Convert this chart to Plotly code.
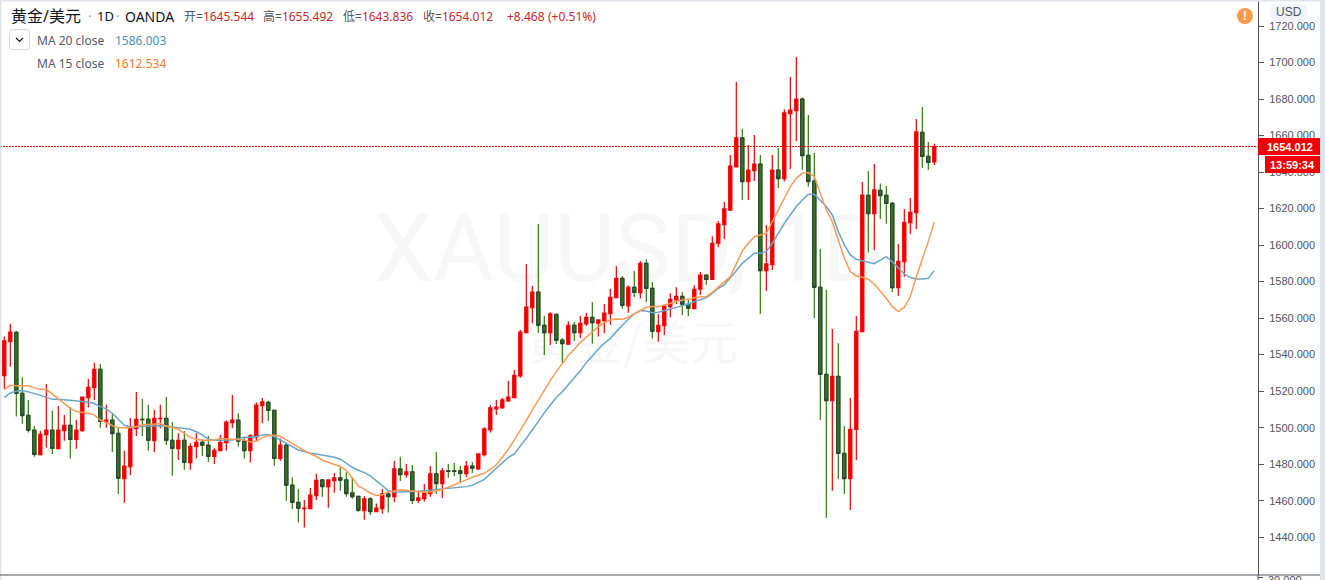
import plotly.graph_objects as go

opens = [1528.5,1547.1,1552.2,1518.8,1506.8,1498.6,1485.2,1496.2,1498.6,1488.5,1498.4,1501.3,1493.6,1498.4,1516.5,1521.9,1532.0,1503.0,1504.1,1496.9,1472.1,1478.7,1499.5,1504.6,1504.6,1492.9,1505.0,1505.1,1493.1,1488.5,1493.1,1480.9,1489.6,1492.0,1490.4,1484.2,1487.4,1491.8,1502.8,1504.1,1492.6,1487.4,1494.9,1512.1,1513.9,1509.5,1483.1,1490.4,1468.5,1459.1,1455.7,1455.7,1462.8,
1471.4,1467.7,1471.0,1472.5,1471.4,1464.3,1462.4,1454.6,1461.0,1454.0,1455.7,1463.7,1462.2,1477.4,1474.3,1475.8,1460.1,1461.1,1463.9,1474.7,1469.4,1476.3,1476.3,1476.3,1474.8,1479.0,1477.4,1485.2,1498.8,1510.3,1510.8,1514.6,
1516.4,1528.3,1552.0,1565.7,1574.3,1556.1,1552.0,1562.1,1547.9,1545.8,1556.1,1552.0,1556.8,1560.4,1557.3,1558.6,1562.5,1571.2,1581.8,1566.7,1576.9,1574.0,1590.0,1576.3,1552.6,1555.9,1566.3,1570.1,1571.9,1567.6,1565.2,1575.8,1583.5,1581.2,1601.0,
1611.2,1619.2,1642.8,1658.7,1634.8,1640.8,1644.4,1586.0,1589.3,1641.1,1636.4,1672.0,1673.6,1680.0,1649.2,1635.1,1576.9,1529.2,1514.8,1528.1,1485.9,1472.1,1499.1,1552.6,1627.3,1617.2,1630.0,1627.3,1622.9,1576.7,1590.9,1612.3,1617.8,1661.8,1648.6,1645.544]

closes = [1547.5,1552.4,1518.8,1506.6,1498.6,1485.4,1496.4,1498.6,1488.7,1498.6,1501.3,1493.6,1498.6,1516.8,1522.1,1532.0,1503.5,1504.1,1496.7,1472.3,1478.9,1499.7,1504.6,1504.4,1493.1,1505.1,1505.1,1493.1,1488.7,1493.1,1481.0,1489.8,1492.0,1490.4,1484.3,1487.6,1492.0,1503.0,1504.2,1492.6,1487.4,1495.5,1512.3,1514.1,1509.5,1483.2,1490.4,1468.5,1459.1,1455.9,1455.9,1463.0,1471.2,
1467.7,1471.4,1472.5,1471.2,1463.9,1462.2,1454.8,1461.0,1454.0,1456.0,1463.7,1462.2,1477.4,1474.3,1475.8,1460.2,1461.5,1464.3,1474.7,1469.4,1476.3,1476.1,1476.1,1475.0,1479.0,1477.8,1485.6,1499.3,1510.8,1511.3,1515.2,1516.8,
1528.7,1552.4,1566.1,1574.3,1556.1,1552.0,1562.3,1547.9,1546.0,1556.1,1552.0,1557.2,1560.4,1557.5,1559.0,1562.8,1571.4,1581.8,1567.0,1576.9,1574.1,1590.0,1576.3,1552.8,1556.1,1566.5,1570.3,1571.9,1567.6,1565.4,1575.8,1583.5,1581.2,1601.0,1611.6,
1619.8,1643.3,1658.7,1634.8,1641.1,1644.4,1586.0,1589.7,1641.1,1636.4,1672.4,1674.0,1680.0,1649.0,1634.8,1576.9,1529.2,1514.8,1528.1,1485.9,1472.1,1499.1,1552.8,1627.4,1617.2,1630.2,1627.1,1622.9,1576.7,1591.1,1612.5,1617.9,1662.0,1648.6,1645.3,1654.012]

highs = [1549.9,1556.8,1553.0,1527.6,1515.2,1500.9,1498.2,1523.9,1509.2,1511.9,1507.0,1511.2,1504.2,1516.8,1526.7,1535.5,1534.9,1512.5,1507.3,1500.2,1487.3,1505.3,1519.6,1515.7,1512.5,1509.7,1512.5,1516.8,1503.1,1496.9,1498.2,1491.5,1496.9,1493.6,1495.5,1488.7,1496.0,1503.9,1517.9,1507.9,1494.9,1496.4,1513.9,1516.3,1514.6,1509.7,1494.2,1491.8,1472.8,1466.4,1460.4,1467.0,1474.7,
1471.4,1471.4,1475.2,1478.3,1475.6,1472.8,1462.4,1462.4,1461.9,1458.4,1466.4,1465.3,1481.8,1484.0,1480.1,1479.6,1465.3,1469.2,1479.0,1486.7,1477.9,1480.1,1480.7,1479.0,1481.8,1481.2,1486.0,1500.2,1512.4,1515.2,1516.3,1525.6,
1531.6,1553.5,1589.7,1577.6,1611.6,1561.2,1563.2,1562.3,1549.1,1558.3,1557.9,1561.2,1562.8,1568.7,1559.0,1567.8,1576.0,1588.6,1583.1,1578.0,1585.8,1591.3,1592.2,1579.8,1562.3,1567.6,1573.6,1576.9,1574.1,1570.5,1578.0,1585.3,1583.5,1604.8,1613.0,
1623.6,1649.4,1689.3,1663.6,1654.8,1660.3,1649.4,1611.0,1649.4,1653.2,1674.4,1692.1,1703.0,1680.8,1671.3,1650.5,1597.9,1575.4,1554.1,1546.2,1500.9,1516.3,1561.2,1634.6,1640.6,1644.4,1633.8,1632.4,1623.6,1600.6,1619.8,1625.8,1669.1,1675.6,1656.5,1655.492]

lows = [1521.0,1533.4,1506.1,1502.1,1497.3,1484.0,1484.7,1489.1,1485.6,1488.3,1492.9,1483.1,1488.5,1497.7,1511.0,1515.2,1499.9,1499.9,1486.7,1463.7,1458.9,1474.1,1495.5,1495.5,1487.3,1486.7,1499.7,1490.5,1473.6,1482.3,1476.9,1476.9,1483.1,1484.5,1481.2,1480.1,1487.3,1487.3,1499.7,1489.5,1483.1,1480.9,1492.7,1502.6,1503.7,1479.2,1481.9,1459.9,1455.5,1448.0,1445.3,1455.5,1460.4,
1462.2,1456.2,1464.3,1465.5,1462.2,1461.1,1454.0,1449.5,1452.2,1453.7,1452.8,1453.5,1459.3,1470.8,1472.5,1458.2,1458.8,1459.5,1462.2,1463.7,1461.5,1472.5,1473.4,1469.5,1472.8,1475.2,1476.8,1484.2,1497.3,1507.0,1510.3,1514.1,
1516.3,1527.4,1551.9,1557.2,1552.0,1539.8,1545.3,1545.8,1535.6,1545.3,1547.5,1549.1,1555.7,1546.0,1549.9,1551.7,1556.3,1571.0,1565.2,1563.0,1571.6,1570.7,1568.8,1548.8,1547.1,1550.8,1560.3,1567.7,1561.7,1561.2,1565.0,1572.7,1578.3,1581.1,1598.8,
1603.4,1618.7,1642.6,1624.7,1624.7,1635.1,1562.3,1574.9,1586.4,1631.3,1634.8,1641.7,1657.0,1641.1,1632.0,1560.1,1504.2,1450.7,1465.5,1471.9,1463.7,1454.9,1482.3,1552.4,1595.9,1597.3,1614.3,1611.7,1574.3,1572.3,1582.7,1606.1,1608.8,1642.2,1641.1,1643.836]

ma15 = [1521.0,1523.2,1523.0,1522.9,1522.9,1521.8,1521.0,1521.0,1518.3,1516.1,1513.4,1510.6,1508.8,1508.4,1507.9,1507.0,1504.2,1502.8,1501.1,1500.0,1499.9,1499.9,1500.6,1501.5,1501.7,1502.1,1502.2,1500.9,1500.2,1499.1,1496.9,1494.7,1493.6,1493.1,1493.1,1493.3,1494.0,1493.8,1493.6,1493.6,1493.3,1492.2,1492.6,1494.4,1495.7,1495.8,1495.3,1493.3,1491.5,1489.3,1487.4,1486.0,1484.2,
1482.3,1480.9,1479.8,1478.7,1476.5,1472.6,1468.1,1466.3,1464.1,1462.8,1463.2,1464.8,1465.5,1465.9,1465.7,1465.2,1465.0,1464.6,1464.8,1465.3,1466.1,1467.4,1468.6,1470.1,1471.4,1472.8,1474.1,1475.0,1477.2,1479.6,1483.8,1488.2,1493.3,1498.4,1503.9,1509.7,
1515.2,1520.7,1525.8,1530.7,1535.3,1539.5,1542.9,1546.6,1549.5,1552.6,1555.3,1557.7,1559.0,1559.5,1559.4,1560.5,1562.3,1564.5,1565.9,1566.3,1566.3,1567.2,1568.1,1569.4,1569.9,1570.3,1571.2,1571.6,1571.8,1574.1,1576.9,
1579.4,1582.7,1589.7,1596.8,1601.0,1604.6,1605.5,1606.5,1612.9,1619.2,1625.6,1632.0,1636.6,1639.3,
1639.7,1637.5,1628.4,1619.2,1612.8,1602.8,1592.8,1585.5,1583.1,1582.4,1581.3,1578.7,1575.1,1570.9,1566.3,1563.6,1565.9,1571.8,1582.7,1591.9,1601.9,1612.534]

ma20 = [1516.5,1519.0,1519.9,1520.3,1519.6,1518.8,1517.7,1516.6,1515.5,1515.5,1515.2,1515.0,1514.8,1514.3,1514.1,1513.2,1511.5,1510.3,1507.9,1504.6,1501.3,1500.4,1500.6,1500.8,1500.9,1500.9,1501.1,1500.8,1500.4,1499.7,1499.3,1499.1,1497.8,1496.0,1493.6,1493.1,1493.1,1493.1,1493.3,1494.0,1494.7,1494.7,1495.1,1496.0,1496.2,1495.1,1493.3,1491.1,1489.3,1487.8,1486.9,1486.0,1485.6,
1485.1,1484.3,1483.8,1482.7,1480.5,1478.3,1476.7,1475.4,1473.6,1471.0,1468.3,1465.5,1464.6,1464.6,1464.8,1465.0,1465.2,1465.5,1465.7,1465.9,1466.3,1466.6,1466.8,1467.0,1467.7,1468.4,1469.9,1471.7,1474.7,1477.8,1481.0,1483.8,1485.6,1489.6,1494.2,
1498.7,1503.7,1508.1,1512.4,
1516.5,1519.7,1523.4,1527.0,1531.2,1535.6,1539.5,1542.9,1546.2,1548.9,1552.6,1556.2,1559.4,1562.3,1564.1,1563.9,1563.0,1563.2,1563.9,1565.0,1565.9,1566.7,1567.7,1569.0,1569.9,1571.2,1573.6,1576.3,
1578.2,1581.8,1586.0,1590.0,1592.8,1595.5,1595.5,1596.4,1601.0,1606.5,1611.9,1616.5,1621.1,1624.7,
1627.8,1627.8,1624.7,1621.1,1616.5,1607.4,1600.1,1594.6,1592.2,1591.5,1590.6,1589.8,1591.8,1593.7,1590.9,1587.3,1584.2,1582.2,1581.4,1581.4,1581.8,1586.003]

price_ticks = [1440,1460,1480,1500,1520,1540,1560,1580,1600,1620,1640,1660,1680,1700,1720]
assert all(len(a) == 156 for a in (opens, closes, highs, lows, ma15, ma20)), [len(a) for a in (opens, closes, highs, lows, ma15, ma20)]
idx = list(range(len(opens)))

W, H, MR, MB = 1325, 580, 67, 5
PW, PH = W - MR, H - MB
fx = lambda p: p / PW
fy = lambda p: 1 - p / PH

RED, GREEN_FILL, GREEN_WICK, DARK = "#f00000", "#38761d", "#2e7a0c", "#2b3a42"
CJK = "Noto Sans, Noto Sans CJK SC"
fig = go.Figure()

fig.add_trace(go.Candlestick(
    x=idx, open=opens, high=highs, low=lows, close=closes, whiskerwidth=0,
    increasing=dict(line=dict(color=RED, width=1.2), fillcolor=RED),
    decreasing=dict(line=dict(color=GREEN_WICK, width=1.2), fillcolor=GREEN_FILL),
    showlegend=False, hoverinfo="skip"))

down = [i for i in idx if closes[i] < opens[i]]
fig.add_trace(go.Candlestick(
    x=down, open=[opens[i] for i in down], close=[closes[i] for i in down],
    high=[opens[i] for i in down], low=[closes[i] for i in down], whiskerwidth=0,
    decreasing=dict(line=dict(color=DARK, width=1), fillcolor=GREEN_FILL),
    showlegend=False, hoverinfo="skip"))

fig.add_trace(go.Scatter(x=idx, y=ma20, mode="lines", line=dict(color="#6aa5c8", width=1.5),
                         showlegend=False, hoverinfo="skip"))
fig.add_trace(go.Scatter(x=idx, y=ma15, mode="lines", line=dict(color="#fb9a56", width=1.5),
                         showlegend=False, hoverinfo="skip"))

def rect(x0, y0, x1, y1, fill, layer="above"):
    return dict(type="rect", xref="paper", yref="paper", x0=fx(x0), x1=fx(x1), y0=fy(y0), y1=fy(y1),
                fillcolor=fill, line=dict(width=0), layer=layer)

def rrect(x0, y0, x1, y1, r, fill, line):
    a, b, c, d = fx(x0), fx(x1), fy(y0), fy(y1)
    rx, ry = r / PW, r / PH
    p = (f"M{a+rx},{c} L{b-rx},{c} Q{b},{c} {b},{c-ry} L{b},{d+ry} Q{b},{d} {b-rx},{d} "
         f"L{a+rx},{d} Q{a},{d} {a},{d+ry} L{a},{c-ry} Q{a},{c} {a+rx},{c} Z")
    return dict(type="path", xref="paper", yref="paper", path=p, fillcolor=fill,
                line=dict(color=line, width=1), layer="above")

shapes = [
    dict(type="rect", xref="paper", yref="paper", x0=fx(374), x1=fx(884), y0=fy(200), y1=fy(284),
         line=dict(width=0), fillcolor="rgba(0,0,0,0)", layer="below",
         label=dict(text="XAUUSD, 1D", textposition="middle center",
                    font=dict(family="Roboto", size=94, color="#f7f7f7"))),
    dict(type="rect", xref="paper", yref="paper", x0=fx(525), x1=fx(740), y0=fy(318), y1=fy(376),
         line=dict(width=0), fillcolor="rgba(0,0,0,0)", layer="below",
         label=dict(text="黄金/美元", textposition="middle center",
                    font=dict(family="Noto Sans CJK SC", size=48, color="#f7f7f7"))),
    dict(type="line", xref="paper", yref="y", x0=0, x1=1, y0=closes[-1], y1=closes[-1],
         line=dict(color="#ff0000", width=1, dash="2px,1px"), layer="above"),
    rect(0, 0, 1.5, H, "#e0e3eb"),
    rect(0, 0, W, 1.5, "#e0e3eb"),
    rect(1320, 0, W, H, "#e0e3eb"),
    dict(type="line", xref="paper", yref="paper", x0=0, x1=fx(1320), y0=fy(575), y1=fy(575),
         line=dict(color="#50535e", width=1), layer="above"),
    dict(type="line", xref="paper", yref="paper", x0=fx(1258), x1=fx(1258), y0=fy(575), y1=fy(H),
         line=dict(color="#50535e", width=1), layer="above"),
    dict(type="line", xref="paper", yref="paper", x0=fx(1258), x1=fx(1263), y0=fy(577.5), y1=fy(577.5),
         line=dict(color="#50535e", width=1), layer="above"),
    rect(1258, 138, 1320, 155, "#f00000"),
    rect(1265, 156, 1320, 173, "#f00000"),
    rrect(1271, 5, 1307, 21, 3, "#f0f3fa", "#f0f3fa"),
    rrect(9.5, 29.5, 29.5, 49.5, 3, "#ffffff", "#d6d8de"),
    dict(type="path", xref="paper", yref="paper",
         path=f"M{fx(16)},{fy(38)} L{fx(19.5)},{fy(41.5)} L{fx(23)},{fy(38)}",
         line=dict(color="#131722", width=1.2), layer="above"),
    dict(type="circle", xref="paper", yref="paper", x0=fx(1237), x1=fx(1253), y0=fy(8), y1=fy(24),
         fillcolor="#ff9a4d", line=dict(width=0), layer="above"),
]

def txt(x, y, s, color, size, anchor="left", family=CJK, bold=False):
    return dict(xref="paper", yref="paper", x=fx(x), y=fy(y), xanchor=anchor, yanchor="middle",
                text=f"<b>{s}</b>" if bold else s, showarrow=False, borderpad=0, borderwidth=0,
                font=dict(family=family, size=size, color=color), align="left")

GRAY, VAL = "#50535e", "#c5272d"
def pair(lbl, v):
    return f'<span style="color:{GRAY}">{lbl}=</span>{v}'

annotations = [
    txt(11, 16, "黄金/美元", "#131722", 16),
    txt(88, 16, "·", "#9598a1", 13),
    txt(97, 16, "1D", "#131722", 13),
    txt(116, 16, "·", "#9598a1", 13),
    txt(125, 16, "OANDA", "#131722", 14),
    txt(184, 16, pair("开", "1645.544"), VAL, 12),
    txt(263, 16, pair("高", "1655.492"), VAL, 12),
    txt(343, 16, pair("低", "1643.836"), VAL, 12),
    txt(423, 16, pair("收", "1654.012"), VAL, 12),
    txt(507, 16, "+8.468", VAL, 12),
    txt(548, 16, "(+0.51%)", VAL, 12),
    txt(37, 40, "MA 20 close", "#555a66", 12),
    txt(115, 40, "1586.003", "#4a90b5", 12),
    txt(37, 63.5, "MA 15 close", "#555a66", 12),
    txt(115, 63.5, "1612.534", "#f57a1f", 12),
    txt(1289, 12.5, "USD", "#50535e", 12, "center", "Liberation Sans"),
    txt(1245, 16, "!", "#ffffff", 12, "center", "Liberation Sans", True),
    txt(1289.5, 146.5, "1654.012", "#ffffff", 11, "center", "Liberation Sans", True),
    txt(1292.5, 164.5, "13:59:34", "#ffffff", 11, "center", "Liberation Sans", True),
    txt(1268, 579.5, "30.000", "#50535e", 11, "left", "Liberation Sans"),
]

fig.update_layout(
    width=W, height=H, autosize=False,
    margin=dict(l=0, r=MR, t=0, b=MB, pad=0),
    paper_bgcolor="#ffffff", plot_bgcolor="#ffffff",
    boxgap=0.25, showlegend=False,
    shapes=shapes, annotations=annotations,
    xaxis=dict(range=[-0.72, 208.95], visible=False, rangeslider=dict(visible=False), fixedrange=True),
    yaxis=dict(range=[1419.3, 1734.24], side="right", tickmode="array", tickvals=price_ticks,
               ticktext=[f"{v}.000" for v in price_ticks], showgrid=False, zeroline=False,
               showline=True, linecolor="#50535e", linewidth=1, ticks="outside", ticklen=5,
               tickcolor="#50535e", tickfont=dict(family="Liberation Sans", size=11, color="#50535e"),
               ticklabelstandoff=3, fixedrange=True),
)

fig.write_html("out.html", config=dict(displayModeBar=False),
               post_script="document.body.style.margin='0';document.documentElement.style.overflow='hidden';")
